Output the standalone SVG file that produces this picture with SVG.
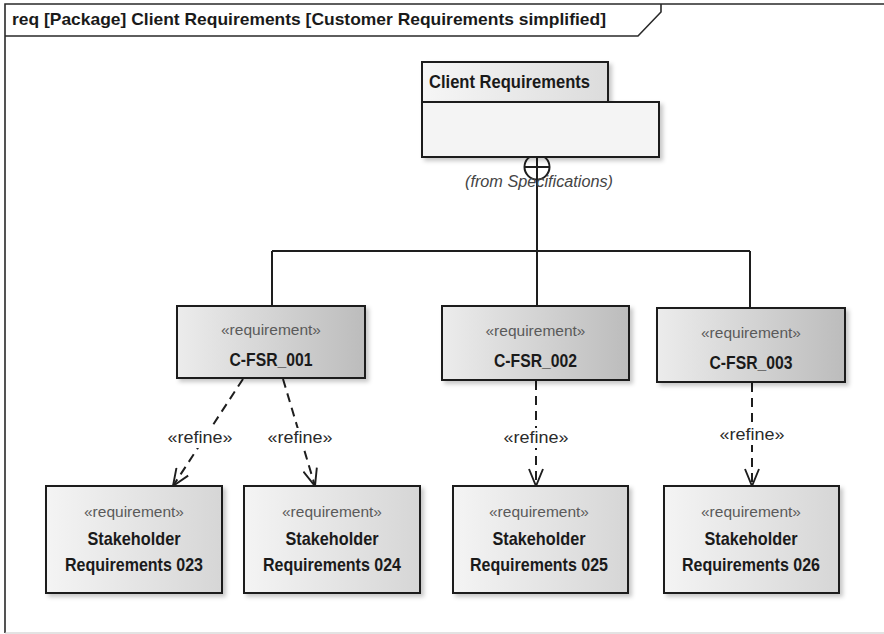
<svg xmlns="http://www.w3.org/2000/svg" width="884" height="634" viewBox="0 0 884 634">
  <style>
    .frame { fill: none; stroke: #2a2a2a; stroke-width: 1.6; }
    .box { stroke: #1e1e1e; stroke-width: 2; }
    .title { font-family: "Liberation Sans", Arial, sans-serif; font-weight: bold; font-size: 17px; fill: #1a1a1a; }
    .name { font-family: "Liberation Sans", Arial, sans-serif; font-weight: bold; font-size: 18.5px; fill: #1a1a1a; text-anchor: middle; }
    .stereo { font-family: "Liberation Sans", Arial, sans-serif; font-size: 14px; fill: #5a5a5a; text-anchor: middle; }
    .from { font-family: "Liberation Sans", Arial, sans-serif; font-style: italic; font-size: 16px; fill: #444; text-anchor: middle; }
    .lbl { font-family: "Liberation Sans", Arial, sans-serif; font-size: 16px; fill: #2a2a2a; text-anchor: middle; }
    .solid { fill: none; stroke: #1e1e1e; stroke-width: 2; }
    .dash { fill: none; stroke: #1e1e1e; stroke-width: 2; stroke-dasharray: 9 6; marker-end: url(#openArrow); }
  </style>
  <defs>
    <linearGradient id="gReq" x1="0" y1="0" x2="1" y2="0">
      <stop offset="0" stop-color="#ececec"/>
      <stop offset="1" stop-color="#bcbcbc"/>
    </linearGradient>
    <linearGradient id="gStake" x1="0" y1="0" x2="1" y2="0">
      <stop offset="0" stop-color="#f4f4f4"/>
      <stop offset="1" stop-color="#d6d6d6"/>
    </linearGradient>
    <linearGradient id="gTab" x1="0" y1="0" x2="1" y2="0">
      <stop offset="0" stop-color="#f6f6f6"/>
      <stop offset="1" stop-color="#dcdcdc"/>
    </linearGradient>
    <filter id="shadow" x="-10%" y="-10%" width="130%" height="130%">
      <feDropShadow dx="3" dy="3" stdDeviation="2" flood-color="#000" flood-opacity="0.22"/>
    </filter>
    <!-- open "V" arrowhead for dependency lines -->
    <marker id="openArrow" viewBox="0 0 19 16" refX="18" refY="8" markerWidth="19" markerHeight="16" markerUnits="userSpaceOnUse" orient="auto">
      <path d="M1,1 L18,8 L1,15" fill="none" stroke="#1e1e1e" stroke-width="1.9"/>
    </marker>
  </defs>

  <!-- diagram frame with name tab -->
  <g id="frame">
    <path class="frame" d="M884,4 H5 V633"/>
    <line x1="5" y1="633" x2="884" y2="633" stroke="#c8c8c8" stroke-width="1.2"/>
    <path class="frame" d="M5,36 H638 L661,12 V4"/>
    <text class="title" x="12" y="25" textLength="594" lengthAdjust="spacingAndGlyphs">req [Package] Client Requirements [Customer Requirements simplified]</text>
  </g>

  <!-- connectors -->
  <g id="connectors">
    <path class="solid" d="M537,179 V251 M272,251 H750 M272,251 V306 M537,251 V306 M750,251 V308"/>
    <circle cx="537" cy="167" r="12.5" fill="none" stroke="#1e1e1e" stroke-width="2"/>
    <path class="solid" d="M524.5,167 H549.5 M537,154.5 V179.5"/>

    <line class="dash" x1="243" y1="379" x2="173" y2="486"/>
    <line class="dash" x1="283" y1="379" x2="315" y2="486"/>
    <line class="dash" x1="536" y1="381" x2="536" y2="486"/>
    <line class="dash" x1="752" y1="383" x2="752" y2="486"/>

    <g id="refine-labels">
      <rect x="166" y="428" width="68" height="20" fill="#fff"/>
      <text class="lbl" x="200" y="443" textLength="65" lengthAdjust="spacingAndGlyphs">«refine»</text>
      <rect x="266" y="428" width="68" height="20" fill="#fff"/>
      <text class="lbl" x="300" y="443" textLength="65" lengthAdjust="spacingAndGlyphs">«refine»</text>
      <rect x="502" y="428" width="68" height="20" fill="#fff"/>
      <text class="lbl" x="536" y="443" textLength="65" lengthAdjust="spacingAndGlyphs">«refine»</text>
      <rect x="718" y="425" width="68" height="20" fill="#fff"/>
      <text class="lbl" x="752" y="440" textLength="65" lengthAdjust="spacingAndGlyphs">«refine»</text>
    </g>
  </g>

  <!-- package -->
  <g id="client-requirements">
    <rect class="box" x="422" y="62" width="186" height="40" fill="url(#gTab)" filter="url(#shadow)"/>
    <rect class="box" x="422" y="102" width="237" height="55" fill="#f4f4f4" filter="url(#shadow)"/>
    <text class="name" x="509.5" y="88" textLength="161" lengthAdjust="spacingAndGlyphs">Client Requirements</text>
    <text class="from" x="539" y="187" textLength="148" lengthAdjust="spacingAndGlyphs">(from Specifications)</text>
  </g>

  <!-- customer requirements -->
  <g id="c-fsr-001">
    <rect class="box" x="177" y="306" width="188" height="72" fill="url(#gReq)" filter="url(#shadow)"/>
    <text class="stereo" x="271" y="335" textLength="100" lengthAdjust="spacingAndGlyphs">«requirement»</text>
    <text class="name" x="271" y="366" textLength="83" lengthAdjust="spacingAndGlyphs">C-FSR_001</text>
  </g>
  <g id="c-fsr-002">
    <rect class="box" x="442" y="306" width="187" height="74" fill="url(#gReq)" filter="url(#shadow)"/>
    <text class="stereo" x="535.5" y="336" textLength="100" lengthAdjust="spacingAndGlyphs">«requirement»</text>
    <text class="name" x="535.5" y="367" textLength="83" lengthAdjust="spacingAndGlyphs">C-FSR_002</text>
  </g>
  <g id="c-fsr-003">
    <rect class="box" x="657" y="308" width="188" height="74" fill="url(#gReq)" filter="url(#shadow)"/>
    <text class="stereo" x="751" y="338" textLength="100" lengthAdjust="spacingAndGlyphs">«requirement»</text>
    <text class="name" x="751" y="369" textLength="83" lengthAdjust="spacingAndGlyphs">C-FSR_003</text>
  </g>

  <!-- stakeholder requirements -->
  <g id="stakeholder-023">
    <rect class="box" x="46" y="486" width="176" height="107" fill="url(#gStake)" filter="url(#shadow)"/>
    <text class="stereo" x="134" y="517" textLength="100" lengthAdjust="spacingAndGlyphs">«requirement»</text>
    <text class="name" x="134" y="545" textLength="93" lengthAdjust="spacingAndGlyphs">Stakeholder</text>
    <text class="name" x="134" y="571" textLength="138" lengthAdjust="spacingAndGlyphs">Requirements 023</text>
  </g>
  <g id="stakeholder-024">
    <rect class="box" x="244" y="486" width="176" height="107" fill="url(#gStake)" filter="url(#shadow)"/>
    <text class="stereo" x="332" y="517" textLength="100" lengthAdjust="spacingAndGlyphs">«requirement»</text>
    <text class="name" x="332" y="545" textLength="93" lengthAdjust="spacingAndGlyphs">Stakeholder</text>
    <text class="name" x="332" y="571" textLength="138" lengthAdjust="spacingAndGlyphs">Requirements 024</text>
  </g>
  <g id="stakeholder-025">
    <rect class="box" x="453" y="486" width="175" height="107" fill="url(#gStake)" filter="url(#shadow)"/>
    <text class="stereo" x="539" y="517" textLength="100" lengthAdjust="spacingAndGlyphs">«requirement»</text>
    <text class="name" x="539" y="545" textLength="93" lengthAdjust="spacingAndGlyphs">Stakeholder</text>
    <text class="name" x="539" y="571" textLength="138" lengthAdjust="spacingAndGlyphs">Requirements 025</text>
  </g>
  <g id="stakeholder-026">
    <rect class="box" x="664" y="486" width="175" height="107" fill="url(#gStake)" filter="url(#shadow)"/>
    <text class="stereo" x="751" y="517" textLength="100" lengthAdjust="spacingAndGlyphs">«requirement»</text>
    <text class="name" x="751" y="545" textLength="93" lengthAdjust="spacingAndGlyphs">Stakeholder</text>
    <text class="name" x="751" y="571" textLength="138" lengthAdjust="spacingAndGlyphs">Requirements 026</text>
  </g>
</svg>
